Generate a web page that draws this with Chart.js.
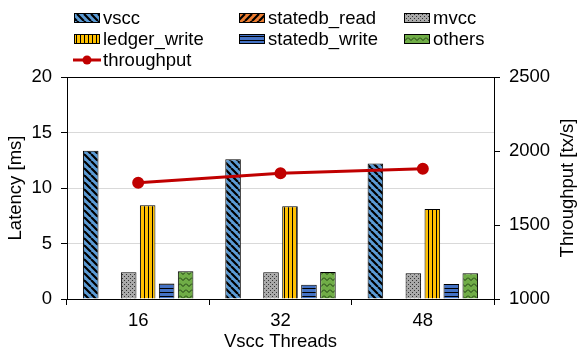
<!DOCTYPE html>
<html><head><meta charset="utf-8">
<script src="https://cdn.jsdelivr.net/npm/chart.js@4.4.1/dist/chart.umd.min.js"></script>
<style>html,body{margin:0;padding:0;background:#fff;} #wrap{width:577px;height:354px;position:relative;}</style>
</head><body><div id="wrap"><canvas id="c" width="577" height="354"></canvas></div>
<script>
const categories = ['16', '32', '48'];
const vscc = [13.35, 12.6, 12.2];
const statedbRead = [0, 0, 0];
const mvcc = [2.4, 2.4, 2.32];
const ledgerWrite = [8.45, 8.35, 8.1];
const statedbWrite = [1.4, 1.28, 1.35];
const others = [2.5, 2.43, 2.33];
const throughput = [1786, 1849, 1880];
const latencyTicks = [0, 5, 10, 15, 20];
const throughputTicks = [1000, 1500, 2000, 2500];
const seriesNames = ['vscc', 'statedb_read', 'mvcc', 'ledger_write', 'statedb_write', 'others', 'throughput'];

const FONT = "'Liberation Sans', Arial, sans-serif";
const FS = 18.5;
const canvas = document.getElementById('c');
const mainCtx = canvas.getContext('2d');

function makePattern(w, h, bg, draw) {
  const c = document.createElement('canvas');
  c.width = w; c.height = h;
  const x = c.getContext('2d');
  x.fillStyle = bg; x.fillRect(0, 0, w, h);
  draw(x, w, h);
  return mainCtx.createPattern(c, 'repeat');
}
const patVscc = makePattern(7, 7, '#5B9BD5', (x) => {
  x.strokeStyle = '#000'; x.lineWidth = 2.2; x.beginPath();
  for (let k = -7; k <= 7; k += 7) { x.moveTo(k, 0); x.lineTo(k + 7, 7); }
  x.stroke();
});
const patRead = makePattern(7, 7, '#ED7D31', (x) => {
  x.strokeStyle = '#000'; x.lineWidth = 2.2; x.beginPath();
  for (let k = -7; k <= 7; k += 7) { x.moveTo(k, 7); x.lineTo(k + 7, 0); }
  x.stroke();
});
const patMvcc = makePattern(4, 4, '#A9A9A9', (x) => {
  x.fillStyle = '#333'; x.fillRect(0, 0, 1, 1); x.fillRect(2, 2, 1, 1);
});
const patLedger = makePattern(4, 1, '#FFC000', (x) => {
  x.fillStyle = '#000'; x.fillRect(0, 0, 1, 1);
});
const patWrite = makePattern(1, 4, '#4472C4', (x) => {
  x.fillStyle = '#000'; x.fillRect(0, 0, 1, 1);
});
const patOthers = makePattern(6, 6, '#70AD47', (x) => {
  x.strokeStyle = '#1d3a12'; x.lineWidth = 1; x.beginPath();
  x.moveTo(0, 1.5); x.lineTo(3, 4.5); x.lineTo(6, 1.5); x.stroke();
});
const barPatterns = [patVscc, patRead, patMvcc, patLedger, patWrite, patOthers];
const barData = [vscc, statedbRead, mvcc, ledgerWrite, statedbWrite, others];
const LINE_COLOR = '#C00000';

const datasets = barData.map((d, i) => ({
  type: 'bar', label: seriesNames[i], data: d, yAxisID: 'y',
  backgroundColor: barPatterns[i], borderColor: '#000', borderWidth: 1,
  categoryPercentage: 0.8, barPercentage: 0.82, order: 2
}));
datasets.push({
  type: 'line', label: seriesNames[6], data: throughput, yAxisID: 'y1',
  borderColor: LINE_COLOR, backgroundColor: LINE_COLOR, borderWidth: 3,
  pointRadius: 4.5, pointBackgroundColor: LINE_COLOR, pointBorderColor: LINE_COLOR,
  tension: 0, order: 0
});

const extras = {
  id: 'extras',
  afterDraw(chart) {
    const ctx = chart.ctx; const a = chart.chartArea;
    ctx.save();
    ctx.strokeStyle = '#000'; ctx.lineWidth = 1;
    ctx.beginPath(); const ty = Math.round(a.top) + 0.5;
    ctx.moveTo(a.left, ty); ctx.lineTo(a.right, ty); ctx.stroke();
    ctx.fillStyle = '#000'; ctx.font = FS + 'px ' + FONT;
    ctx.translate(568, (a.top + a.bottom) / 2);
    ctx.rotate(-Math.PI / 2);
    ctx.textAlign = 'center'; ctx.textBaseline = 'middle';
    ctx.fillText('Throughput [tx/s]', 0, 0);
    ctx.restore();
    ctx.save();
    ctx.font = FS + 'px ' + FONT; ctx.textBaseline = 'middle'; ctx.textAlign = 'left'; ctx.fillStyle = '#000';
    const cols = [74, 239, 404]; const rows = [18, 39, 60];
    for (let i = 0; i < 6; i++) {
      const cx = cols[i % 3], cy = rows[Math.floor(i / 3)];
      ctx.fillStyle = barPatterns[i];
      ctx.fillRect(cx, cy - 5, 26, 10);
      ctx.strokeStyle = '#000'; ctx.lineWidth = 1;
      ctx.strokeRect(cx + 0.5, cy - 5 + 0.5, 25, 9);
      ctx.fillStyle = '#000';
      ctx.fillText(seriesNames[i], cx + 29, cy + 1);
    }
    const ly = rows[2];
    ctx.strokeStyle = LINE_COLOR; ctx.lineWidth = 3;
    ctx.beginPath(); ctx.moveTo(73, ly); ctx.lineTo(101, ly); ctx.stroke();
    ctx.fillStyle = LINE_COLOR; ctx.beginPath(); ctx.arc(87, ly, 4.5, 0, Math.PI * 2); ctx.fill();
    ctx.fillStyle = '#000';
    ctx.fillText(seriesNames[6], 103, ly + 1);
    ctx.restore();
  }
};

new Chart(canvas, {
  data: { labels: categories, datasets },
  options: {
    responsive: false, animation: false,
    layout: { padding: { top: 77, left: 0, right: 0, bottom: 0 } },
    plugins: { legend: { display: false }, tooltip: { enabled: false } },
    scales: {
      x: {
        type: 'category', offset: true,
        grid: { offset: true, drawOnChartArea: false, drawTicks: true, tickLength: 6, color: '#000', lineWidth: 1 },
        border: { color: '#000', width: 1 },
        ticks: { font: { family: FONT, size: FS }, color: '#000', padding: 5, maxRotation: 0 },
        title: { display: true, text: 'Vscc Threads', font: { family: FONT, size: FS, lineHeight: 1 }, color: '#000', padding: { top: 0, bottom: 3 } },
        afterFit(s) { s.height = 55; }
      },
      y: {
        position: 'left', min: 0, max: 20,
        afterBuildTicks(s) { s.ticks = latencyTicks.map(v => ({ value: v })); },
        grid: { color: '#d9d9d9', tickColor: '#000', tickLength: 6, drawOnChartArea: true, lineWidth: 1 },
        border: { color: '#000', width: 1 },
        ticks: { font: { family: FONT, size: FS }, color: '#000', padding: 9, callback: (v) => String(v) },
        title: { display: true, text: 'Latency [ms]', font: { family: FONT, size: FS, lineHeight: 1 }, color: '#000', padding: { top: 7, bottom: 0 } },
        afterFit(s) { s.width = 67; }
      },
      y1: {
        position: 'right', min: 1000, max: 2500,
        afterBuildTicks(s) { s.ticks = throughputTicks.map(v => ({ value: v })); },
        grid: { drawOnChartArea: false, color: '#000', tickLength: 6, lineWidth: 1 },
        border: { color: '#000', width: 1 },
        ticks: { font: { family: FONT, size: FS }, color: '#000', padding: 9, callback: (v) => String(v) },
        afterFit(s) { s.width = 83; }
      }
    }
  },
  plugins: [extras]
});
</script>
</body></html>
